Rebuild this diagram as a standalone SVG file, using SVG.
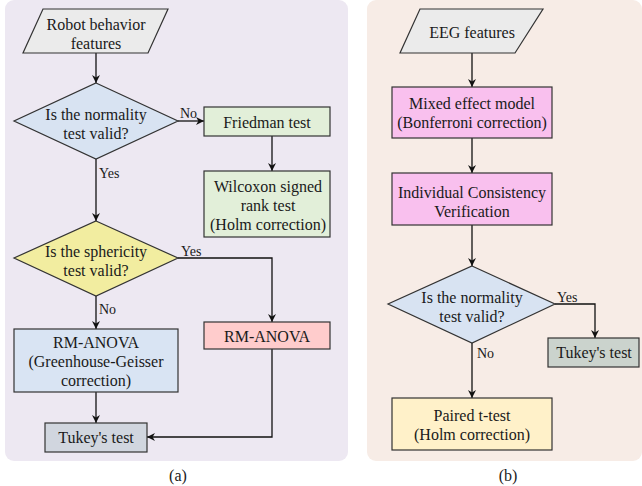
<svg xmlns="http://www.w3.org/2000/svg" width="642" height="486" viewBox="0 0 642 486" font-family="'Liberation Serif', 'Times New Roman', Times, serif">
<defs>
<marker id="ah" viewBox="0 0 10 10" refX="10" refY="5" markerWidth="8" markerHeight="8" markerUnits="userSpaceOnUse" orient="auto">
<path d="M0,0 L10,5 L0,10 L3,5 Z" fill="#111"/>
</marker>
</defs>
<style>
text{font-family:'Liberation Serif','Times New Roman',Times,serif;font-size:16px;fill:#1a1a1a;text-anchor:middle;dominant-baseline:central}
.lbl{font-size:14px;text-anchor:start}
.n{stroke:#333;stroke-width:1.2}
.c{fill:none;stroke:#111;stroke-width:1.3}
</style>
<rect x="5" y="0" width="343" height="461" rx="9" fill="#EDE8F2"/>
<rect x="367" y="0" width="275" height="461" rx="9" fill="#F7ECE6"/>
<g id="conn">
<path class="c" d="M96,53 V83" marker-end="url(#ah)"/>
<path class="c" d="M178,121 H204" marker-end="url(#ah)"/>
<path class="c" d="M272,136 V171" marker-end="url(#ah)"/>
<path class="c" d="M96,159 V221" marker-end="url(#ah)"/>
<path class="c" d="M178,258 H272 V322" marker-end="url(#ah)"/>
<path class="c" d="M96,296 V329" marker-end="url(#ah)"/>
<path class="c" d="M96,392 V423" marker-end="url(#ah)"/>
<path class="c" d="M272,349 V437 H147" marker-end="url(#ah)"/>
<path class="c" d="M472,53 V87" marker-end="url(#ah)"/>
<path class="c" d="M472,138 V173" marker-end="url(#ah)"/>
<path class="c" d="M472,225 V266" marker-end="url(#ah)"/>
<path class="c" d="M555,304 H595 V338" marker-end="url(#ah)"/>
<path class="c" d="M472,343 V398" marker-end="url(#ah)"/>
<text class="lbl" x="180" y="113">No</text>
<text class="lbl" x="99" y="173">Yes</text>
<text class="lbl" x="181" y="251">Yes</text>
<text class="lbl" x="99" y="309">No</text>
<text class="lbl" x="557" y="297">Yes</text>
<text class="lbl" x="477" y="353">No</text>
</g>
<g id="robot">
<polygon class="n" points="43,9 168,9 148,53 23,53" fill="#EBEBEB"/>
<text x="96" y="24">Robot behavior</text>
<text x="96" y="43">features</text>
</g>
<g id="norm1">
<polygon class="n" points="96,83 178,121 96,159 14,121" fill="#D8E3F2"/>
<text x="96" y="114">Is the normality</text>
<text x="96" y="133">test valid?</text>
</g>
<g id="friedman">
<rect class="n" x="204" y="107" width="126" height="29" fill="#E2EFD9"/>
<text x="267" y="122">Friedman test</text>
</g>
<g id="wilcoxon">
<rect class="n" x="204" y="171" width="126" height="66" fill="#E2EFD9"/>
<text x="268" y="186">Wilcoxon signed</text>
<text x="268" y="205">rank test</text>
<text x="268" y="224">(Holm correction)</text>
</g>
<g id="spher">
<polygon class="n" points="96,221 178,258 96,296 14,258" fill="#F2EDA0"/>
<text x="96" y="251">Is the sphericity</text>
<text x="96" y="270">test valid?</text>
</g>
<g id="rmanova">
<rect class="n" x="204" y="322" width="126" height="27" fill="#FFCCCC"/>
<text x="267" y="336">RM-ANOVA</text>
</g>
<g id="rmanovagg">
<rect class="n" x="14" y="329" width="164" height="63" fill="#D9E4F3"/>
<text x="96" y="342">RM-ANOVA</text>
<text x="96" y="361">(Greenhouse-Geisser</text>
<text x="96" y="380">correction)</text>
</g>
<g id="tukeya">
<rect class="n" x="45" y="423" width="102" height="29" fill="#D1D6DF"/>
<text x="96" y="437">Tukey's test</text>
</g>
<text x="178" y="475">(a)</text>
<g id="eeg">
<polygon class="n" points="420,9 543,9 515,53 400,53" fill="#EBEBEB"/>
<text x="472" y="32">EEG features</text>
</g>
<g id="mixed">
<rect class="n" x="392" y="87" width="160" height="51" fill="#F9C0EE"/>
<text x="472" y="103">Mixed effect model</text>
<text x="472" y="122">(Bonferroni correction)</text>
</g>
<g id="indiv">
<rect class="n" x="392" y="173" width="160" height="52" fill="#F9C0EE"/>
<text x="472" y="192">Individual Consistency</text>
<text x="472" y="211">Verification</text>
</g>
<g id="norm2">
<polygon class="n" points="472,266 555,304 472,343 388,304" fill="#D8E3F2"/>
<text x="472" y="297">Is the normality</text>
<text x="472" y="316">test valid?</text>
</g>
<g id="tukeyb">
<rect class="n" x="548" y="338" width="91" height="29" fill="#CBD3CD"/>
<text x="594" y="352">Tukey's test</text>
</g>
<g id="paired">
<rect class="n" x="392" y="398" width="160" height="52" fill="#FFF1C9"/>
<text x="472" y="415">Paired t-test</text>
<text x="472" y="434">(Holm correction)</text>
</g>
<text x="508" y="475">(b)</text>
</svg>
